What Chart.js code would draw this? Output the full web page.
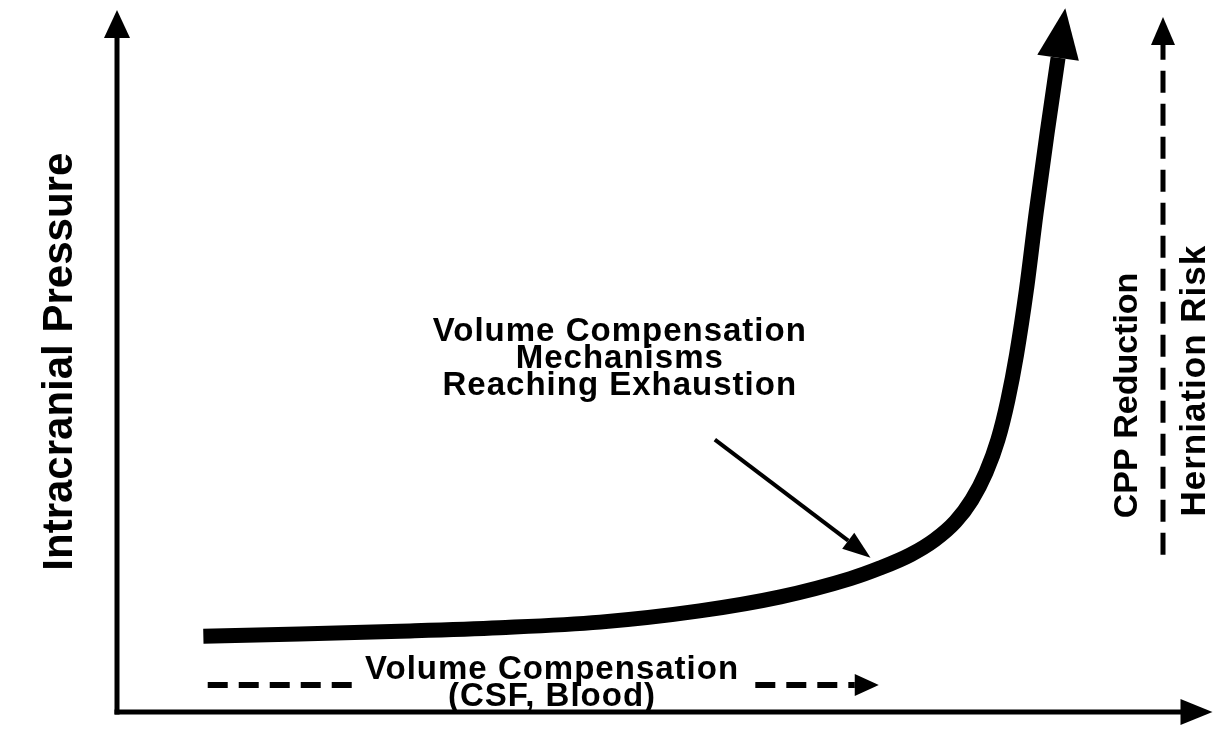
<!DOCTYPE html>
<html>
<head>
<meta charset="utf-8">
<script src="https://cdn.jsdelivr.net/npm/chart.js@4.4.0/dist/chart.umd.min.js"></script>
<style>
    html, body { margin: 0; padding: 0; background: #fff; }
    #wrap { width: 1215px; height: 734px; position: relative; }
</style>
</head>
<body>
<div id="wrap"><canvas id="icpChart"></canvas></div>
<script>
// Pressure-volume curve (arbitrary units, 0-100 on both axes)
const volume   = [7.9, 16.7, 25.9, 35.0, 44.2, 53.3, 60.7, 67.1, 69.8, 72.6, 74.8, 76.7, 78.2, 79.5, 80.6, 81.5, 82.3, 83.2, 84.1, 85.1, 86.1];
const pressure = [10.8, 11.1, 11.5, 12.0, 12.8, 14.4, 16.4, 19.0, 20.5, 22.4, 24.5, 27.1, 30.2, 34.1, 38.8, 44.4, 50.9, 60.1, 71.2, 82.5, 93.2];

// Axis lines (end at the arrowhead base)
const yAxisTop = 96.0;
const xAxisEnd = 97.3;

// Dashed arrow on the right
const cppX = [95.7, 95.7];
const cppY = [22.4, 95.0];

// Dashed compensation arrow at the bottom
const compLeftX = [8.3, 21.8];
const compRightX = [58.4, 67.5];
const compY = [3.85, 3.85];

// Pointer from the note to the curve
const pointerX = [54.7, 66.9];
const pointerY = [38.8, 24.4];

// Texts
const yTitle = 'Intracranial Pressure';
const rightLabels = ['CPP Reduction', 'Herniation Risk'];
const noteLines = ['Volume Compensation', 'Mechanisms', 'Reaching Exhaustion'];
const compLines = ['Volume Compensation', '(CSF, Blood)'];

const pts = (xs, ys) => xs.map((x, i) => ({ x: x, y: ys[i] }));

// Draws a filled arrowhead beyond the last point of datasets that have an "arrow" option
const arrowHeads = {
    id: 'arrowHeads',
    afterDatasetsDraw(chart) {
        const ctx = chart.ctx;
        chart.data.datasets.forEach((ds, i) => {
            if (!ds.arrow) return;
            const els = chart.getDatasetMeta(i).data;
            const a = els[els.length - 2], b = els[els.length - 1];
            const dx = b.x - a.x, dy = b.y - a.y;
            const d = Math.hypot(dx, dy);
            const ux = dx / d, uy = dy / d;
            const half = ds.arrow.width / 2;
            ctx.save();
            ctx.fillStyle = '#000';
            ctx.beginPath();
            ctx.moveTo(b.x + ux * ds.arrow.len, b.y + uy * ds.arrow.len);
            ctx.lineTo(b.x - uy * half, b.y + ux * half);
            ctx.lineTo(b.x + uy * half, b.y - ux * half);
            ctx.closePath();
            ctx.fill();
            ctx.restore();
        });
    }
};

// Text labels placed in data coordinates
const labels = [
    { lines: [yTitle], x: -5.2, y: 49.9, rot: -90, size: 42, spacing: 0 },
    { lines: [rightLabels[0]], x: 92.5, y: 45.1, rot: -90, size: 34, spacing: 0 },
    { lines: [rightLabels[1]], x: 98.7, y: 47.2, rot: -90, size: 35, spacing: 1 },
    { lines: noteLines, x: 46.0, y: 54.2, rot: 0, size: 33, spacing: 1, lineHeight: 27 },
    { lines: compLines, x: 39.8, y: 6.0, rot: 0, size: 33, spacing: 1, lineHeight: 27 }
];

const textLabels = {
    id: 'textLabels',
    afterDraw(chart) {
        const ctx = chart.ctx;
        const xs = chart.scales.x, ys = chart.scales.y;
        labels.forEach(l => {
            ctx.save();
            ctx.translate(xs.getPixelForValue(l.x), ys.getPixelForValue(l.y));
            ctx.rotate(l.rot * Math.PI / 180);
            ctx.font = 'bold ' + l.size + 'px "Liberation Sans", Arial, sans-serif';
            ctx.letterSpacing = l.spacing + 'px';
            ctx.fillStyle = '#000';
            ctx.textAlign = 'center';
            ctx.textBaseline = 'middle';
            l.lines.forEach((t, k) => ctx.fillText(t, 0, k * (l.lineHeight || 0)));
            ctx.restore();
        });
    }
};

const line = (data, extra) => Object.assign({
    data: data,
    showLine: true,
    borderColor: '#000',
    backgroundColor: '#000',
    pointRadius: 0,
    borderWidth: 5,
    clip: false
}, extra);

new Chart(document.getElementById('icpChart'), {
    type: 'scatter',
    data: {
        datasets: [
            line([{ x: 0, y: 0 }, { x: 0, y: yAxisTop }], { borderCapStyle: 'square', arrow: { len: 28, width: 26 } }),
            line([{ x: 0, y: 0 }, { x: xAxisEnd, y: 0 }], { borderCapStyle: 'square', arrow: { len: 32, width: 26 } }),
            line(pts(volume, pressure), { borderWidth: 15, cubicInterpolationMode: 'monotone', arrow: { len: 50, width: 42 } }),
            line(pts(cppX, cppY), { borderDash: [22, 11], arrow: { len: 28, width: 24 } }),
            line(pts(compLeftX, compY), { borderWidth: 6, borderDash: [20, 11] }),
            line(pts(compRightX, compY), { borderWidth: 6, borderDash: [20, 11], arrow: { len: 24, width: 22 } }),
            line(pts(pointerX, pointerY), { borderWidth: 4, arrow: { len: 28, width: 20 } })
        ]
    },
    options: {
        responsive: true,
        maintainAspectRatio: false,
        animation: false,
        layout: { padding: { left: 117, right: 5, top: 10, bottom: 22 } },
        plugins: { legend: { display: false }, tooltip: { enabled: false } },
        scales: {
            x: { type: 'linear', min: 0, max: 100, display: false },
            y: { type: 'linear', min: 0, max: 100, display: false }
        }
    },
    plugins: [arrowHeads, textLabels]
});
</script>
</body>
</html>
